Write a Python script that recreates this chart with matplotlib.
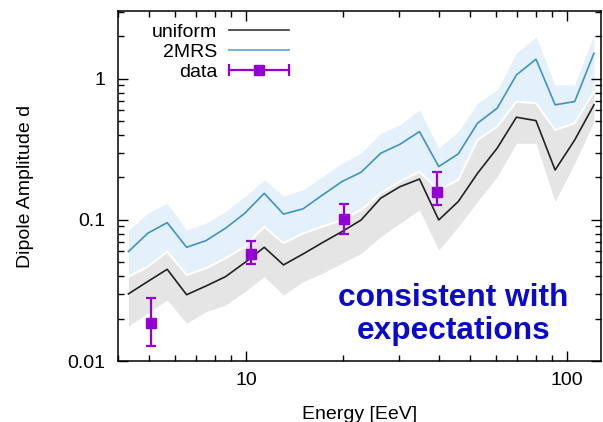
import matplotlib
matplotlib.use("Agg")
import matplotlib.pyplot as plt
from matplotlib.lines import Line2D
from matplotlib.legend_handler import HandlerLine2D, HandlerTuple
from matplotlib.ticker import FixedLocator, FixedFormatter, LogLocator, NullFormatter

plt.rcParams['font.family'] = ['Liberation Sans', 'DejaVu Sans']

# energy bins [EeV]
energy = [4.30, 4.94, 5.68, 6.53, 7.50, 8.63, 9.91, 11.40, 13.09, 15.07,
          17.30, 19.91, 22.86, 26.30, 30.20, 34.75, 39.90, 45.9, 52.7, 60.7,
          69.7, 80.2, 92.0, 105.9, 121.6]

# isotropic (uniform) source expectation and its band
uniform = [0.0299, 0.0366, 0.0447, 0.0295, 0.0340, 0.0396, 0.0498, 0.0640, 0.0480, 0.0574,
           0.069, 0.0826, 0.100, 0.1426, 0.172, 0.195, 0.100, 0.135, 0.214, 0.323,
           0.535, 0.506, 0.226, 0.369, 0.655]
uniform_lo = [0.0177, 0.0218, 0.0271, 0.0185, 0.0224, 0.0249, 0.0310, 0.0396, 0.0294, 0.0365,
              0.0419, 0.0493, 0.0580, 0.0761, 0.0948, 0.1177, 0.0613, 0.0896, 0.1348, 0.2028,
              0.350, 0.350, 0.1348, 0.2524, 0.4979]
uniform_hi = [0.0396, 0.0466, 0.0596, 0.0407, 0.0454, 0.0535, 0.0646, 0.0896, 0.0684, 0.0804,
              0.0896, 0.100, 0.1177, 0.1547, 0.1869, 0.2201, 0.1632, 0.1922, 0.3694, 0.4589,
              0.6902, 0.6725, 0.4348, 0.4852, 0.8127]

# 2MRS galaxy-catalogue expectation and its band
mrs = [0.0596, 0.0805, 0.0957, 0.064, 0.0713, 0.0873, 0.1114, 0.1545, 0.110, 0.120,
       0.150, 0.187, 0.218, 0.297, 0.344, 0.423, 0.239, 0.294, 0.485, 0.620,
       1.067, 1.38, 0.655, 0.691, 1.52]
mrs_lo = [0.0396, 0.0466, 0.0596, 0.0407, 0.0454, 0.0535, 0.0646, 0.0896, 0.0684, 0.0804,
          0.0896, 0.100, 0.1177, 0.1547, 0.1869, 0.2201, 0.1632, 0.1922, 0.3694, 0.4589,
          0.6902, 0.6725, 0.4348, 0.4852, 0.8127]
mrs_hi = [0.0849, 0.1116, 0.1313, 0.0849, 0.0948, 0.1145, 0.1463, 0.1922, 0.1480, 0.1632,
          0.2028, 0.2524, 0.2972, 0.4120, 0.4719, 0.6027, 0.3225, 0.4228, 0.6725, 0.8354,
          1.521, 1.995, 0.9066, 0.9066, 2.051]

# measured dipole amplitudes
data_E = [5.07, 10.34, 20.2, 39.3]
data_d = [0.0185, 0.0574, 0.101, 0.1588]
data_lo = [0.0128, 0.0488, 0.0796, 0.128]
data_hi = [0.0281, 0.0713, 0.130, 0.218]

PURPLE = '#9400d3'
BLUE = '#3f93c4'

fig = plt.figure(figsize=(6.03, 4.22), dpi=100)
ax = fig.add_axes([118 / 603, 1 - 361 / 422, (601 - 118) / 603, 350 / 422])
ax.set_xscale('log')
ax.set_yscale('log')

ax.fill_between(energy, mrs_lo, mrs_hi, color='#e4f1fa', lw=0, zorder=1)
ax.fill_between(energy, uniform_lo, uniform_hi, color='#e5e5e5', lw=0, zorder=2)
ax.plot(energy, uniform_hi, color='white', lw=1.5, zorder=2.5)
ax.plot(energy, uniform, color='#222222', lw=1.2, zorder=3)
ax.plot(energy, mrs, color=BLUE, lw=1.2, zorder=3)

yerr = [[d - lo for d, lo in zip(data_d, data_lo)], [hi - d for d, hi in zip(data_d, data_hi)]]
ax.errorbar(data_E, data_d, yerr=yerr, fmt='s', color=PURPLE, ms=6.5, elinewidth=1.6,
            capsize=3.5, capthick=1.6, zorder=4)

ax.set_xlim(3.99, 127.9)
ax.set_ylim(0.01, 3.03)

ax.xaxis.set_major_locator(FixedLocator([10, 100]))
ax.xaxis.set_major_formatter(FixedFormatter(['10', '100']))
ax.xaxis.set_minor_locator(LogLocator(base=10, subs=range(2, 10)))
ax.xaxis.set_minor_formatter(NullFormatter())
ax.yaxis.set_major_locator(FixedLocator([0.01, 0.1, 1]))
ax.yaxis.set_major_formatter(FixedFormatter(['0.01', '0.1', '1']))
ax.yaxis.set_minor_locator(LogLocator(base=10, subs=range(2, 10)))
ax.yaxis.set_minor_formatter(NullFormatter())

ax.tick_params(which='both', direction='in', top=True, right=True, width=1.0, labelsize=14)
ax.tick_params(which='major', length=7)
ax.tick_params(which='minor', length=4)
ax.tick_params(axis='y', which='major', pad=9)
ax.tick_params(axis='x', which='major', pad=8)
for s in ax.spines.values():
    s.set_linewidth(1.1)

ax.set_xlabel('Energy [EeV]', fontsize=14, labelpad=12)
ax.set_ylabel('Dipole Amplitude d', fontsize=14)
ax.yaxis.set_label_coords(-0.174, 0.5)

ax.text(0.694, 0.133, 'consistent with\nexpectations', transform=ax.transAxes,
        ha='center', va='center', multialignment='center', fontsize=22.8,
        fontweight='bold', color='#0a0acc', linespacing=1.1, zorder=5)

# legend handles: plain lines and an errorbar-style sample with caps at both ends
h_uni = Line2D([], [], color='#333333', lw=1.2)
h_mrs = Line2D([], [], color='#6cb4dc', lw=1.4)
h_bar = Line2D([], [], color=PURPLE, lw=1.6, marker='|', ms=9, mew=1.6)
h_sq = Line2D([], [], color=PURPLE, ls='none', marker='s', ms=6.5)
leg = ax.legend([h_uni, h_mrs, (h_bar, h_sq)], ['uniform', '2MRS', 'data'],
                handler_map={h_bar: HandlerLine2D(numpoints=2, marker_pad=0),
                             h_sq: HandlerLine2D(numpoints=1),
                             tuple: HandlerTuple(ndivide=1)},
                loc='upper right', bbox_to_anchor=(0.354, 0.964), markerfirst=False,
                frameon=False, fontsize=14, borderpad=0, borderaxespad=0,
                handlelength=3.1, handletextpad=0.6, labelspacing=0.12)

fig.savefig('out.png', dpi=100)
